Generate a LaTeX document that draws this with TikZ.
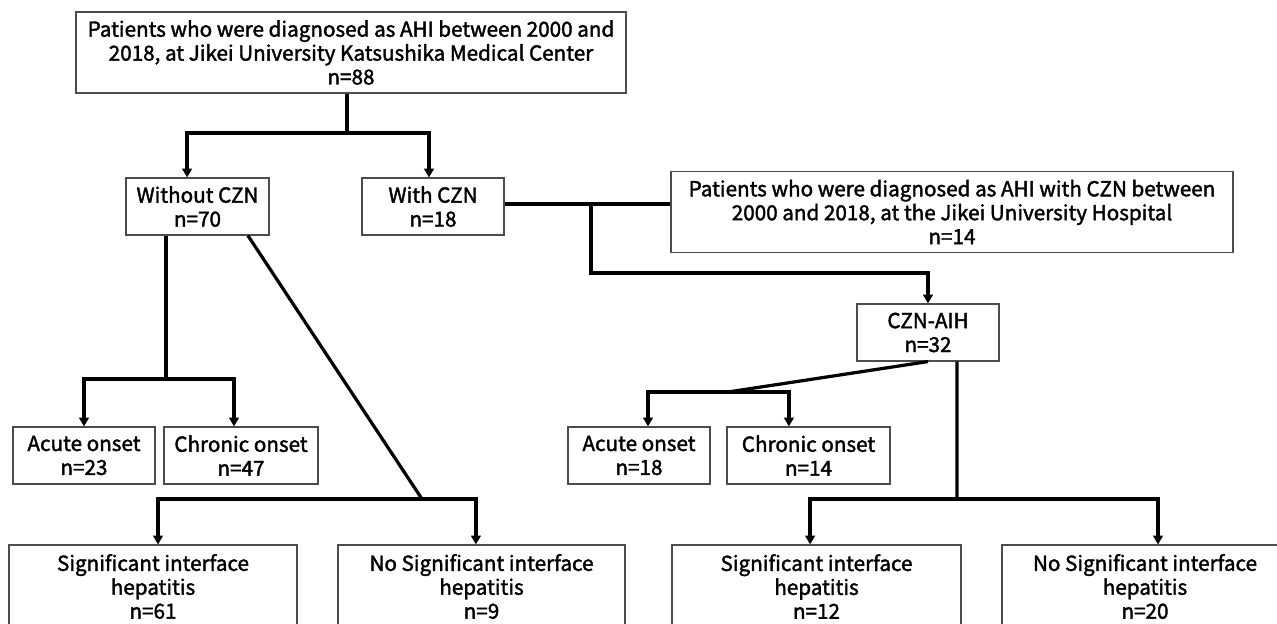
\documentclass[tikz,border=0pt]{standalone}
\usepackage{fontspec}
\setmainfont{Noto Sans CJK JP}[FakeBold=1.8]
\usetikzlibrary{arrows.meta}

\begin{document}
\begin{tikzpicture}[x=0.25mm,y=-0.25mm,
  font=\fontsize{14.7pt}{17pt}\selectfont,
  box/.style={draw=black!70,line width=0.8pt,align=center,inner sep=0pt},
  line/.style={line width=2.3pt},
  arr/.style={line width=2.3pt,-{Triangle[width=2.4mm,length=2.2mm]}}]

  \clip (0,0) rectangle (1277,623);

  % Katsushika cohort
  \node[box,minimum width=137.5mm,minimum height=20.25mm] (ahi) at (351,52.5)
    {Patients who were diagnosed as AHI between 2000 and\\
     2018, at Jikei University Katsushika Medical Center\\ n=88};
  \node[box,minimum width=35.75mm,minimum height=14.25mm] (nocz) at (197.5,206.5) {Without CZN\\ n=70};
  \node[box,minimum width=35.5mm,minimum height=14.25mm] (wcz) at (433,206.5) {With CZN\\ n=18};

  % Jikei University Hospital
  \node[box,minimum width=140.5mm,minimum height=20.25mm] (jikei) at (952,212)
    {Patients who were diagnosed as AHI with CZN between\\
     2000 and 2018, at the Jikei University Hospital\\ n=14};
  \node[box,minimum width=35.5mm,minimum height=14.25mm] (aih) at (928,332.5) {CZN-AIH\\ n=32};

  % onset
  \node[box,minimum width=35.5mm,minimum height=14.25mm] (acuteA) at (84,455.5) {Acute onset\\ n=23};
  \node[box,minimum width=38.5mm,minimum height=14.25mm] (chronA) at (241,455.5) {Chronic onset\\ n=47};
  \node[box,minimum width=35.5mm,minimum height=14.25mm] (acuteB) at (639,455.5) {Acute onset\\ n=18};
  \node[box,minimum width=40.75mm,minimum height=14.25mm] (chronB) at (808.5,455.5) {Chronic onset\\ n=14};

  % interface hepatitis
  \node[box,minimum width=72mm,minimum height=20.75mm] (sigA) at (153,586.5)
    {Significant interface\\ hepatitis\\ n=61};
  \node[box,minimum width=71.75mm,minimum height=20.75mm] (nosigA) at (481.5,586.5)
    {No Significant interface\\ hepatitis\\ n=9};
  \node[box,minimum width=72.25mm,minimum height=20.75mm] (sigB) at (816.5,586.5)
    {Significant interface\\ hepatitis\\ n=12};
  \node[box,minimum width=71.5mm,minimum height=20.75mm] (nosigB) at (1145,586.5)
    {No Significant interface\\ hepatitis\\ n=20};

  \coordinate (s1) at (347,133);
  \coordinate (j1) at (591,204);
  \coordinate (j2) at (591,273);
  \coordinate (n1) at (166,379);
  \coordinate (n2) at (422,499);
  \coordinate (a1) at (728,392);
  \coordinate (a2) at (957,499);

  \draw[line] (ahi.south -| s1) -- (s1);
  \draw[arr] (s1) -| ([xshift=-2.6mm]nocz.north);
  \draw[arr] (s1) -| ([xshift=-1mm]wcz.north);

  \draw[line] (wcz.east |- j1) -- (jikei.west |- j1);
  \draw[arr] (j1) -- (j2) -| (aih.north);

  \draw[line] (nocz.south -| n1) -- (n1);
  \draw[arr] (n1) -| (acuteA.north);
  \draw[arr] (n1) -| ([xshift=-1.75mm]chronA.north);

  \draw[line] ([xshift=12.6mm]nocz.south) -- (n2);
  \draw[arr] (n2) -| ([xshift=1.25mm]sigA.north);
  \draw[arr] (n2) -| ([xshift=-1.4mm]nosigA.north);

  \draw[line] (aih.south) -- (a1);
  \draw[arr] (a1) -| ([xshift=2.25mm]acuteB.north);
  \draw[arr] (a1) -| ([xshift=-4.9mm]chronB.north);

  \draw[line] ([xshift=7.25mm]aih.south) -- (a2);
  \draw[arr] (a2) -| ([xshift=-1.6mm]sigB.north);
  \draw[arr] (a2) -| ([xshift=3.25mm]nosigB.north);
\end{tikzpicture}
\end{document}
